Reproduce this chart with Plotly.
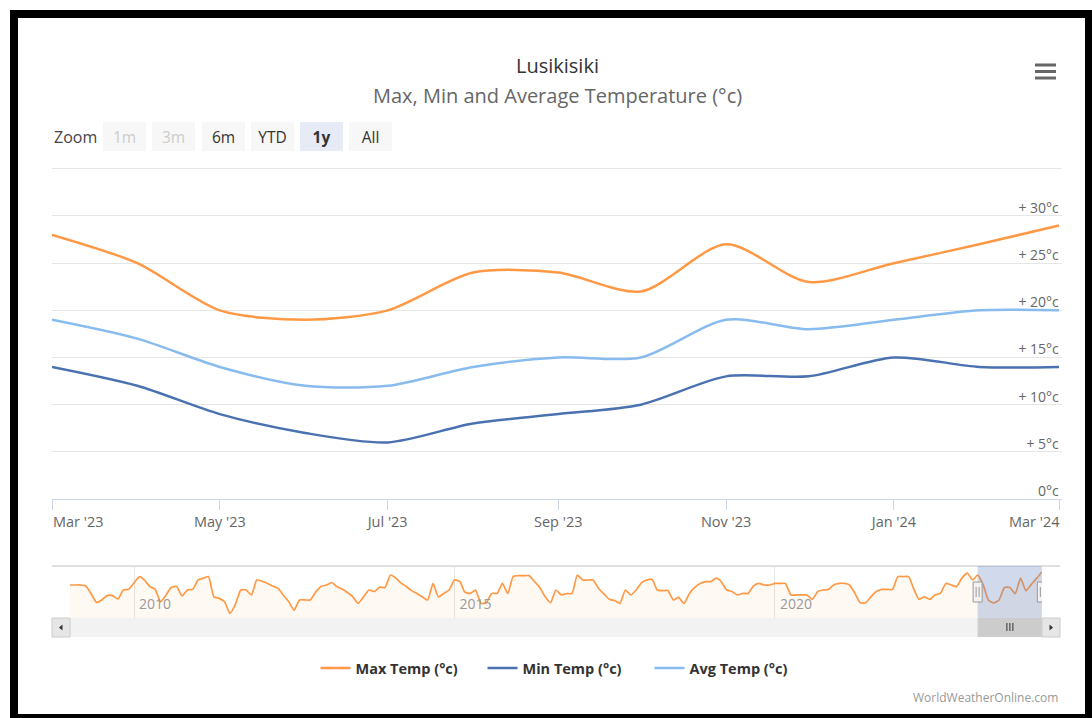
import plotly.graph_objects as go
import pandas as pd

# ---------------- data ----------------
months = ["2023-03-01", "2023-04-01", "2023-05-01", "2023-06-01", "2023-07-01",
          "2023-08-01", "2023-09-01", "2023-10-01", "2023-11-01", "2023-12-01",
          "2024-01-01", "2024-02-01", "2024-03-01"]
max_temp = [28, 25, 20, 19, 20, 24, 24, 22, 27, 23, 25, 27, 29]
min_temp = [14, 12, 9, 7, 6, 8, 9, 10, 13, 13, 15, 14, 14]
avg_temp = [19, 17, 14, 12, 12, 14, 15, 15, 19, 18, 19, 20, 20]

# navigator history of Max Temp, monthly from Jan 2009 to Feb 2023
nav_start = "2009-01-01"
nav_history = [
    24.8, 24.8, 24.8, 24.5, 22.0, 19.2, 20.0, 21.4, 21.4, 20.3, 23.2, 23.4,
    25.5, 27.5, 26.4, 24.3, 23.5, 19.4, 21.5, 24.0, 24.3, 21.3, 23.2, 23.4,
    26.4, 27.0, 27.5, 21.0, 20.5, 19.4, 15.7, 18.5, 23.2, 23.2, 21.6, 26.4,
    26.0, 25.3, 24.5, 23.7, 21.5, 19.4, 16.7, 20.0, 20.0, 20.0, 22.5, 24.3,
    24.8, 25.6, 24.3, 23.5, 22.4, 21.0, 18.9, 21.0, 23.2, 22.7, 24.1, 24.0,
    28.0, 27.0, 25.5, 24.3, 23.0, 22.1, 21.0, 20.0, 25.3, 21.0, 22.1, 23.2,
    26.4, 25.9, 22.5, 22.1, 23.2, 18.9, 19.1, 22.1, 22.1, 25.3, 22.1, 27.5,
    27.8, 27.8, 27.8, 25.9, 24.0, 21.0, 19.1, 23.2, 21.6, 22.0, 22.1, 28.0,
    26.4, 26.4, 26.4, 23.7, 22.0, 20.2, 19.8, 18.9, 23.2, 21.6, 23.2, 25.5,
    26.4, 26.6, 23.2, 23.0, 23.0, 20.0, 20.8, 18.9, 22.1, 24.0, 25.3, 25.9,
    25.9, 27.0, 25.9, 23.2, 22.7, 21.6, 22.1, 22.1, 24.5, 25.3, 24.8, 24.8,
    25.3, 25.3, 25.3, 21.6, 21.6, 21.6, 21.6, 20.2, 22.7, 23.2, 23.4, 24.8,
    25.3, 25.3, 24.8, 22.1, 19.1, 19.1, 21.0, 22.7, 23.4, 23.4, 23.4, 27.5,
    27.5, 27.5, 23.7, 20.2, 21.0, 20.2, 21.6, 22.1, 25.3, 24.8, 24.3, 27.0,
    28.6, 26.4,
]

y_ticks = [0, 5, 10, 15, 20, 25, 30, 35]
zoom_buttons = ["1m", "3m", "6m", "YTD", "1y", "All"]
series_names = ["Max Temp (°c)", "Min Temp (°c)", "Avg Temp (°c)"]
title_text = "Lusikisiki"
subtitle_text = "Max, Min and Average Temperature (°c)"

# ---------------- helpers ----------------
W, H = 1092, 718
def X(px):
    return px / W
def Y(py):
    return 1 - py / H

nav_dates = list(pd.date_range(nav_start, periods=len(nav_history), freq="MS").strftime("%Y-%m-%d")) + months
nav_values = nav_history + max_temp
x_end = "2024-03-02"          # one day of slack so the last tick is kept
px_per_day = (1059 - 52) / 366.0

# x tick labels every two months; the two end labels are set flush with their ticks
x_tickvals = months[::2]
x_labels = [pd.Timestamp(m).strftime("%b '%y") for m in x_tickvals]
x_ticktext = [""] + x_labels[1:-1] + [""]

C_MAX = "#ff9945"
C_MIN = "#4a72b0"
C_AVG = "#88bbee"
FONT = "Open Sans"
TICKFONT = dict(size=14.5, color="#666666", family=FONT)

fig = go.Figure()
for name, vals, col in [(series_names[0], max_temp, C_MAX),
                        (series_names[1], min_temp, C_MIN),
                        (series_names[2], avg_temp, C_AVG)]:
    fig.add_trace(go.Scatter(x=months, y=vals, name=name, mode="lines",
                             line=dict(color=col, width=2.5, shape="spline", smoothing=0.8),
                             xaxis="x", yaxis="y"))

fig.add_trace(go.Scatter(x=nav_dates, y=nav_values, mode="lines", showlegend=False,
                         line=dict(color=C_MAX, width=1.7, shape="spline", smoothing=0.5),
                         fill="tozeroy", fillcolor="rgba(255,153,69,0.06)",
                         xaxis="x2", yaxis="y2", hoverinfo="skip"))

tick_text = [("0°c" if v == 0 else ("" if v == 35 else f"+ {v}°c")) for v in y_ticks]
y_px_per_unit = (499 - 216) / 30.0
y_top = 35.5

fig.update_layout(
    width=W, height=H, margin=dict(l=0, r=0, t=0, b=0, autoexpand=False),
    paper_bgcolor="white", plot_bgcolor="white",
    font=dict(family=FONT, color="#333333"),
    xaxis=dict(domain=[X(52), X(1059 + px_per_day)], range=[months[0], x_end], anchor="y",
               showgrid=False, showline=True, linecolor="#ccd6eb", linewidth=1,
               ticks="outside", ticklen=10, tickcolor="#ccd6eb",
               tickvals=x_tickvals, ticktext=x_ticktext,
               tickfont=TICKFONT, zeroline=False, fixedrange=True,
               automargin=False),
    yaxis=dict(domain=[Y(499), Y(499 - y_top * y_px_per_unit)], range=[0, y_top], anchor="x",
               side="right", tickvals=y_ticks, ticktext=tick_text, ticklabelposition="inside",
               ticklabelshift=-8, ticklabeloverflow="allow",
               showgrid=True, gridcolor="#e6e6e6", gridwidth=1,
               zeroline=False, showline=False, ticks="",
               tickfont=dict(size=14, color="#666666"), fixedrange=True, automargin=False),
    xaxis2=dict(domain=[X(70), X(1042 + 0.015)], range=[nav_start, x_end], anchor="y2",
                showgrid=True, gridcolor="#e6e6e6", dtick="M60", tick0="2010-01-01",
                tickformat="%Y", ticklabelposition="inside right", ticks="",
                ticklabelshift=5,
                tickfont=dict(size=14, color="#999999"), showline=False, zeroline=False,
                fixedrange=True, automargin=False),
    yaxis2=dict(domain=[Y(618), Y(566)], range=[14.2, 30.9], anchor="x2", visible=False,
                fixedrange=True),
    legend=dict(orientation="h", x=X(566), y=Y(668), xanchor="center", yanchor="middle",
                font=dict(size=14.5, color="#333333", weight="bold"), itemwidth=30,
                entrywidth=122, entrywidthmode="pixels",
                bgcolor="rgba(0,0,0,0)"),
    showlegend=True,
)

shapes = []
ann = []

# end labels of the x axis, flush with their ticks
ann.append(dict(text=x_labels[0], x=x_tickvals[0], xref="x", y=Y(521), yref="paper",
                showarrow=False, font=TICKFONT, xanchor="left", yanchor="middle", xshift=-1))
ann.append(dict(text=x_labels[-1], x=x_tickvals[-1], xref="x", y=Y(521), yref="paper",
                showarrow=False, font=TICKFONT, xanchor="right", yanchor="middle", xshift=3))

# title / subtitle
ann.append(dict(text=title_text, x=X(557), y=Y(66), xref="paper", yref="paper",
                showarrow=False, font=dict(size=20, color="#333333", family=FONT),
                xanchor="center", yanchor="middle"))
ann.append(dict(text=subtitle_text, x=X(557), y=Y(96), xref="paper", yref="paper",
                showarrow=False, font=dict(size=20, color="#666666", family=FONT),
                xanchor="center", yanchor="middle"))

# zoom label and buttons
ann.append(dict(text="Zoom", x=X(52), y=Y(136.5), xref="paper", yref="paper", showarrow=False,
                font=dict(size=16, color="#444444", family=FONT), xanchor="left", yanchor="middle"))
btn_centers = [124.5, 173.5, 223, 272, 321, 370.5]
for lab, cx in zip(zoom_buttons, btn_centers):
    disabled = lab in ("1m", "3m")
    selected = lab == "1y"
    ann.append(dict(text=(f"<b>{lab}</b>" if selected else lab), x=X(cx), y=Y(136), xref="paper", yref="paper",
                    showarrow=False, width=43, height=29, borderpad=0, borderwidth=0,
                    bgcolor=("#e6ebf5" if selected else "#f7f7f7"),
                    font=dict(size=15.5, color=("#cccccc" if disabled else "#333333"), family=FONT),
                    xanchor="center", yanchor="middle", align="center", valign="middle"))

# hamburger menu
for yc in (65, 71.5, 78):
    shapes.append(dict(type="rect", xref="paper", yref="paper", x0=X(1035), x1=X(1056),
                       y0=Y(yc - 1.5), y1=Y(yc + 1.5), fillcolor="#666666", line=dict(width=0)))

# navigator top outline
shapes.append(dict(type="line", xref="paper", yref="paper", x0=X(52), x1=X(1060),
                   y0=Y(566), y1=Y(566), line=dict(color="#e0e0e0", width=2)))

# scrollbar track
shapes.append(dict(type="rect", xref="paper", yref="paper", x0=X(52), x1=X(1060),
                   y0=Y(637), y1=Y(618), fillcolor="#f2f2f2", line=dict(width=0), layer="above"))
# scrollbar buttons
for bx0, bx1 in ((52, 70), (1042, 1060)):
    shapes.append(dict(type="rect", xref="paper", yref="paper", x0=X(bx0), x1=X(bx1),
                       y0=Y(637), y1=Y(618), fillcolor="#e6e6e6",
                       line=dict(color="#cccccc", width=1), layer="above"))
# arrows
shapes.append(dict(type="path", xref="paper", yref="paper",
                   path=f"M {X(59)} {Y(627.5)} L {X(62.5)} {Y(624.5)} L {X(62.5)} {Y(630.5)} Z",
                   fillcolor="#333333", line=dict(width=0), layer="above"))
shapes.append(dict(type="path", xref="paper", yref="paper",
                   path=f"M {X(1053)} {Y(627.5)} L {X(1049.5)} {Y(624.5)} L {X(1049.5)} {Y(630.5)} Z",
                   fillcolor="#333333", line=dict(width=0), layer="above"))
# scrollbar thumb (selected range)
shapes.append(dict(type="rect", xref="x2", yref="paper", x0=months[0], x1=months[-1],
                   y0=Y(637), y1=Y(618), fillcolor="#cccccc", line=dict(width=0), layer="above"))
for dx in (-3, 0, 3):
    shapes.append(dict(type="line", xref="x2", yref="paper", xsizemode="pixel",
                       xanchor="2023-09-01", x0=dx, x1=dx, y0=Y(631), y1=Y(623),
                       line=dict(color="#333333", width=1), layer="above"))
# navigator mask
shapes.append(dict(type="rect", xref="x2", yref="paper", x0=months[0], x1=months[-1],
                   y0=Y(618), y1=Y(566), fillcolor="rgba(102,133,194,0.3)",
                   line=dict(width=0), layer="above"))
# handles
for d in (months[0], months[-1]):
    shapes.append(dict(type="rect", xref="x2", yref="paper", xsizemode="pixel", xanchor=d,
                       x0=-4.5, x1=4.5, y0=Y(602), y1=Y(582), fillcolor="#f2f2f2",
                       line=dict(color="#999999", width=1), layer="above"))
    for dx in (-1.5, 1.5):
        shapes.append(dict(type="line", xref="x2", yref="paper", xsizemode="pixel", xanchor=d,
                           x0=dx, x1=dx, y0=Y(597), y1=Y(587),
                           line=dict(color="#999999", width=1), layer="above"))

# credits
ann.append(dict(text="WorldWeatherOnline.com", x=X(1060), y=Y(697), xref="paper", yref="paper",
                showarrow=False, font=dict(size=12, color="#999999", family=FONT),
                xanchor="right", yanchor="middle"))

# black frame of the screenshot
for x0, x1, y0, y1 in ((10, 1092, 10, 18), (10, 18, 10, 718), (1085, 1092, 10, 718), (10, 1092, 714, 718)):
    shapes.append(dict(type="rect", xref="paper", yref="paper", x0=X(x0), x1=X(x1),
                       y0=Y(y1), y1=Y(y0), fillcolor="black", line=dict(width=0), layer="above"))

fig.update_layout(shapes=shapes, annotations=ann)

fig.write_html("out.html", config={"displayModeBar": False},
               post_script="document.body.style.margin='0';document.body.style.overflow='hidden';")
